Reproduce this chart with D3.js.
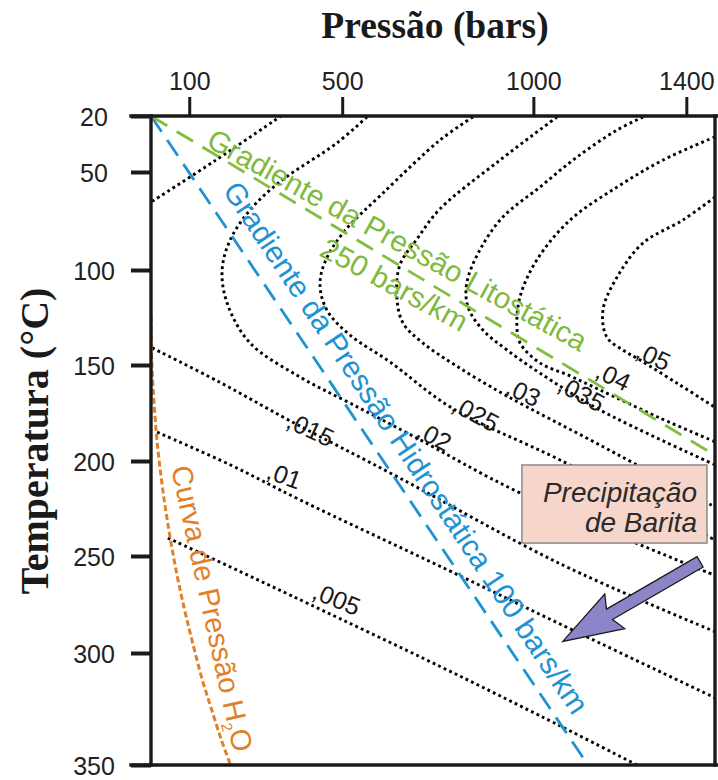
<!DOCTYPE html>
<html><head><meta charset="utf-8">
<script src="https://cdn.jsdelivr.net/npm/d3@7"></script>
<style>body{margin:0;background:#fff}</style>
</head><body>
<svg id="chart" width="718" height="780"></svg>
<script>
// ---------------- data ----------------
const pressureTicks = [100, 500, 1000, 1400];
const temperatureTicks = [20, 50, 100, 150, 200, 250, 300, 350];

// barite solubility isopleths: [pressure (bars), temperature (°C)]
const iso005 = [[44,240.5],[233,258],[416,275],[756,306],[1017,328],[1271,350]];
const iso01  = [[16,185],[207,202],[390,220.5],[774,257],[1122,290],[1475,320]];
const iso015 = [[3,141],[180,159],[363,179],[651,209],[1070,254],[1475,289]];
const iso015Upper = [[3,65],[167,44],[340,20]];
const iso02  = [[565,20.5],[486,34.5],[337,55],[259,69.4],[207,84.7],[186,100],[199,117.4],[259,138.4],[390,156.3],[520,169.8],[690,187.5],[965,216.8],[1475,260]];
const iso025 = [[842,20.5],[756,32.9],[607,60.7],[502,81.1],[455,95.9],[442,107.9],[460,121.1],[520,134.2],[625,148.4],[787,172.4],[1070,199.5],[1475,241.6]];
const iso03  = [[1062,20.5],[913,43.6],[756,68.8],[696,84.1],[651,97.4],[643,114.2],[659,127.9],[711,138.4],[795,150],[926,165.6],[1174,191.7],[1475,224.2]];
const iso035 = [[1287,20.5],[1219,27.5],[1114,42],[1017,57.7],[920,73],[860,89.8],[826,106.8],[829,119.5],[868,131.6],[931,142.1],[1017,154.2],[1174,173.4],[1475,202]];
const iso04  = [[1475,31.2],[1339,43.6],[1219,57.7],[1096,74.5],[1009,94.9],[965,114.2],[957,130],[965,138.4],[1017,148.9],[1096,155.7],[1174,163],[1331,177.6],[1475,190]];
const iso05  = [[1475,62.8],[1391,74.5],[1287,86.2],[1219,103.7],[1182,121.1],[1192,135.3],[1234,142.1],[1279,147.4],[1383,160.4],[1475,172]];

const isoLabels = [",005", ",01", ",015", ",02", ",025", ",03", ",035", ",04", ",05"];
const isoLabelAt = [[418,271.6],[298,208.9],[350,182.3],[690,187],[782,173.4],[923,164.6],[1059,163],[1158,156.3],[1263,145.8]];

const lithostatic = [[0,20],[1475,197]];   // 250 bars/km
const hydrostatic = [[0,20],[1143,350]];   // 100 bars/km
const h2oCurve = [[0,124.7],[2.4,150],[13.9,185.4],[27.5,210],[43.7,232.6],[67,258.8],[87.9,277.8],[107,293.3],[134.3,312.1],[156.4,324.1],[184.1,338.8],[207.9,350]];

const arrowTail = [1436,253];
const arrowTip = [1077,294];
const boxCorners = [[970,202.1],[1454,243.2]];

// ---------------- layout ----------------
const W = 718, H = 780;
const xRange = [151, 715];
const yRange = [116,172,270,365,461,556,653,765];
const svg = d3.select("#chart");
svg.append("rect").attr("width",W).attr("height",H).attr("fill","#fff");

const x = d3.scaleLinear().domain([0,1475]).range(xRange);
const y = d3.scaleLinear().domain(temperatureTicks).range(yRange);

const sans = "'Liberation Sans', Arial, sans-serif";
const serif = "'Liberation Serif', 'Times New Roman', serif";

svg.append("clipPath").attr("id","plotClip").append("rect")
  .attr("x",xRange[0]).attr("y",yRange[0])
  .attr("width",xRange[1]-xRange[0]).attr("height",yRange[yRange.length-1]-yRange[0]);

const plot = svg.append("g").attr("clip-path","url(#plotClip)");
const smooth = d3.line().x(d=>x(d[0])).y(d=>y(d[1])).curve(d3.curveCatmullRom.alpha(0.5));
const straight = d3.line().x(d=>x(d[0])).y(d=>y(d[1]));

const isoSeries = [iso005, iso01, iso015, iso015Upper, iso02, iso025, iso03, iso035, iso04, iso05];
plot.selectAll("path.iso").data(isoSeries).enter().append("path")
  .attr("class","iso").attr("d",smooth)
  .attr("fill","none").attr("stroke","#000").attr("stroke-width",2.9)
  .attr("stroke-dasharray","2.8 3.3");

plot.append("path").datum(h2oCurve).attr("d",smooth)
  .attr("fill","none").attr("stroke","#e2802a").attr("stroke-width",3).attr("stroke-dasharray","6 3");
plot.append("path").datum(hydrostatic).attr("d",straight)
  .attr("fill","none").attr("stroke","#1f93d2").attr("stroke-width",2.8).attr("stroke-dasharray","19 10");
plot.append("path").datum(lithostatic).attr("d",straight)
  .attr("fill","none").attr("stroke","#83bd3f").attr("stroke-width",2.8).attr("stroke-dasharray","19 11");

// isopleth labels
const labelAngles = [22,20,25,28,28,25,28,25,25];
svg.selectAll("text.isoLabel").data(isoLabels).enter().append("text")
  .attr("class","isoLabel")
  .attr("transform",(d,i)=>`translate(${x(isoLabelAt[i][0])},${y(isoLabelAt[i][1])}) rotate(${labelAngles[i]})`)
  .attr("font-family",sans).attr("font-size",25).attr("fill","#1a1a1a").text(d=>d);

// line annotations
function rotText(p, t, ang, txt, color, size){
  return svg.append("text")
    .attr("transform",`translate(${x(p)},${y(t)}) rotate(${ang})`)
    .attr("font-family",sans).attr("font-size",size).attr("fill",color).text(txt);
}
rotText(141,36,28.8,"Gradiente da Pressão Litostática","#7fba3e",29.5);
rotText(437,92.3,28.5,"250 bars/km","#7fba3e",29.5);
rotText(186,59.5,56.3,"Gradiente da Pressão Hidrostática 100 bars/km","#1f93d2",30);
const h2oText = rotText(52,203.7,77.6,"Curva de Pressão H","#e2802a",29);
h2oText.append("tspan").attr("font-size",15).attr("dy",6).text("2");
h2oText.append("tspan").attr("dy",-6).text("O");

// precipitation box
const bx0 = x(boxCorners[0][0]), by0 = y(boxCorners[0][1]);
const bx1 = x(boxCorners[1][0]), by1 = y(boxCorners[1][1]);
svg.append("rect").attr("x",bx0).attr("y",by0).attr("width",bx1-bx0).attr("height",by1-by0)
  .attr("fill","#f6d6cb").attr("stroke","#8a8a8a").attr("stroke-width",1.5);
svg.append("text").attr("x",bx1-10).attr("y",by0+37).attr("text-anchor","end")
  .attr("font-family",sans).attr("font-style","italic").attr("font-size",28).attr("fill","#2a2a2a").text("Precipitação");
svg.append("text").attr("x",bx1-10).attr("y",by0+67).attr("text-anchor","end")
  .attr("font-family",sans).attr("font-style","italic").attr("font-size",28).attr("fill","#2a2a2a").text("de Barita");

// arrow
{
  const sx = x(arrowTail[0]), sy = y(arrowTail[1]);
  const tx = x(arrowTip[0]), ty = y(arrowTip[1]);
  const L = Math.hypot(tx-sx, ty-sy), ux = (tx-sx)/L, uy = (ty-sy)/L;
  const nx = -uy, ny = ux;
  const hl = 54, hh = 20, sh = 6;
  const bxp = tx-ux*hl, byp = ty-uy*hl;
  const pts = [[sx+nx*sh,sy+ny*sh],[bxp+nx*sh,byp+ny*sh],[bxp+nx*hh-ux*6,byp+ny*hh-uy*6],[tx,ty],
               [bxp-nx*hh-ux*6,byp-ny*hh-uy*6],[bxp-nx*sh,byp-ny*sh],[sx-nx*sh,sy-ny*sh]];
  svg.append("polygon").attr("points",pts.map(p=>p.join(",")).join(" "))
    .attr("fill","#8b85c8").attr("stroke","#1b1b1b").attr("stroke-width",1.3).attr("stroke-linejoin","miter");
}

// axes
const axTop = svg.append("g").attr("transform",`translate(0,${yRange[0]})`)
  .call(d3.axisTop(x).tickValues(pressureTicks).tickSize(19).tickFormat(d3.format("d")));
axTop.select(".domain").remove();
axTop.selectAll("line").attr("stroke","#1a1a1a").attr("stroke-width",3);
axTop.selectAll("text").attr("y",-26).attr("font-family",sans).attr("font-size",25).attr("fill","#222");

const axLeft = svg.append("g").attr("transform",`translate(${xRange[0]},0)`)
  .call(d3.axisLeft(y).tickValues(temperatureTicks).tickSize(20));
axLeft.select(".domain").remove();
axLeft.selectAll("line").attr("stroke","#1a1a1a").attr("stroke-width",4);
axLeft.selectAll("text").attr("x",-57).attr("text-anchor","middle").attr("dy","0.36em")
  .attr("font-family",sans).attr("font-size",25).attr("fill","#222");

// frame
const fr = svg.append("g").attr("stroke","#1a1a1a").attr("stroke-width",3.4).attr("stroke-linecap","square");
const yTop = yRange[0], yBot = yRange[yRange.length-1];
fr.append("line").attr("x1",131).attr("x2",W).attr("y1",yTop).attr("y2",yTop);
fr.append("line").attr("x1",131).attr("x2",W).attr("y1",yBot).attr("y2",yBot);
fr.append("line").attr("x1",xRange[0]).attr("x2",xRange[0]).attr("y1",yTop).attr("y2",yBot);
fr.append("line").attr("x1",xRange[1]).attr("x2",xRange[1]).attr("y1",yTop).attr("y2",yBot);

// titles
svg.append("text").attr("x",435).attr("y",38).attr("text-anchor","middle")
  .attr("font-family",serif).attr("font-weight","bold").attr("font-size",37.5).attr("fill","#1a1a1a")
  .text("Pressão (bars)");
svg.append("text").attr("transform","translate(48,441) rotate(-90)").attr("text-anchor","middle")
  .attr("font-family",serif).attr("font-weight","bold").attr("font-size",40).attr("fill","#1a1a1a")
  .text("Temperatura (°C)");
</script>
</body></html>
